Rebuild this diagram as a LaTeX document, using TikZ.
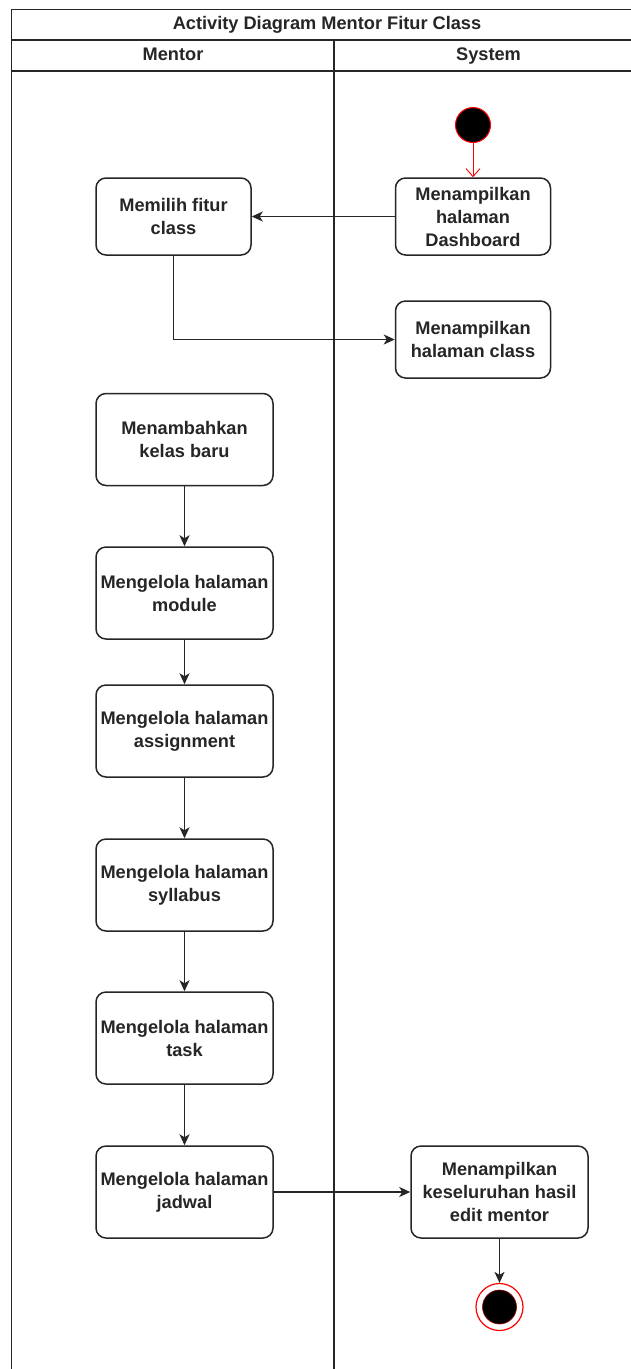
\documentclass[tikz,border=0pt]{standalone}
\usepackage{fontspec}
\setmainfont{Liberation Sans}
\usetikzlibrary{arrows.meta}
\begin{document}
\begin{tikzpicture}[x=1pt,y=-1pt,
  line width=1.5pt,
  txt/.style={font=\bfseries\fontsize{18.2}{23}\selectfont, text=black!85},
  header/.style={txt, text height=13pt, text depth=4pt, inner sep=0pt},
  act/.style={txt, draw=black!85, fill=white, rounded corners=10pt, align=center,
              inner sep=2pt, minimum width=155pt, minimum height=77pt},
  wideact/.style={act, minimum width=177pt, minimum height=92pt},
  arr/.style={draw=black!85, -{Stealth[length=11pt,width=10pt,inset=3pt]}},
  redarr/.style={draw=red, line width=0.9pt, -{Straight Barb[length=8pt,width=14pt]}},
  startnode/.style={circle, fill=black, draw=red, line width=1pt, minimum size=35pt, inner sep=0pt},
  endring/.style={circle, fill=white, draw=red, line width=1.2pt, minimum size=47pt, inner sep=0pt},
  enddot/.style={circle, fill=black, draw=red!60!black, line width=0.6pt, minimum size=34pt, inner sep=0pt}
]
\useasboundingbox (0,0) rectangle (630,1369);
\fill[white] (0,0) rectangle (630,1369);

% swimlane frame
\draw[black!85] (11.5,1380) -- (11.5,9.5) -- (643,9.5) -- (643,1380);
\draw[black!85] (11.5,40) -- (643,40);
\draw[black!85] (11.5,71) -- (643,71);
\draw[black!85] (334,40) -- (334,1380);
\node[header] (title) at (327,25) {Activity Diagram Mentor Fitur Class};
\node[header] (lanementor) at (173,56) {Mentor};
\node[header] (lanesystem) at (488.5,56) {System};

% system lane
\node[startnode] (start) at (473,125) {};
\node[act] (dash) at (473,216.5) {Menampilkan\\halaman\\Dashboard};
\node[act] (cls) at (473,339.5) {Menampilkan\\halaman class};
\node[wideact] (hasil) at (499.5,1192) {Menampilkan\\keseluruhan hasil\\edit mentor};
\node[endring] (final) at (499.5,1307) {};
\node[enddot] at (final) {};

% mentor lane
\node[act] (pilih) at (173.5,216.5) {Memilih fitur\\class};
\node[wideact] (tambah) at (184.5,439.5) {Menambahkan\\kelas baru};
\node[wideact] (module) at (184.5,593) {Mengelola halaman\\module};
\node[wideact] (assign) at (184.5,731) {Mengelola halaman\\assignment};
\node[wideact] (syll) at (184.5,885) {Mengelola halaman\\syllabus};
\node[wideact] (task) at (184.5,1038) {Mengelola halaman\\task};
\node[wideact] (jadwal) at (184.5,1192) {Mengelola halaman\\jadwal};

% flows
\draw[redarr] (start) -- (dash);
\draw[arr] (dash) -- (pilih);
\draw[arr] (pilih.south) |- (cls.west);
\draw[arr] (tambah) -- (module);
\draw[arr] (module) -- (assign);
\draw[arr] (assign) -- (syll);
\draw[arr] (syll) -- (task);
\draw[arr] (task) -- (jadwal);
\draw[arr] (jadwal) -- (hasil);
\draw[arr] (hasil) -- (final);
\end{tikzpicture}
\end{document}
